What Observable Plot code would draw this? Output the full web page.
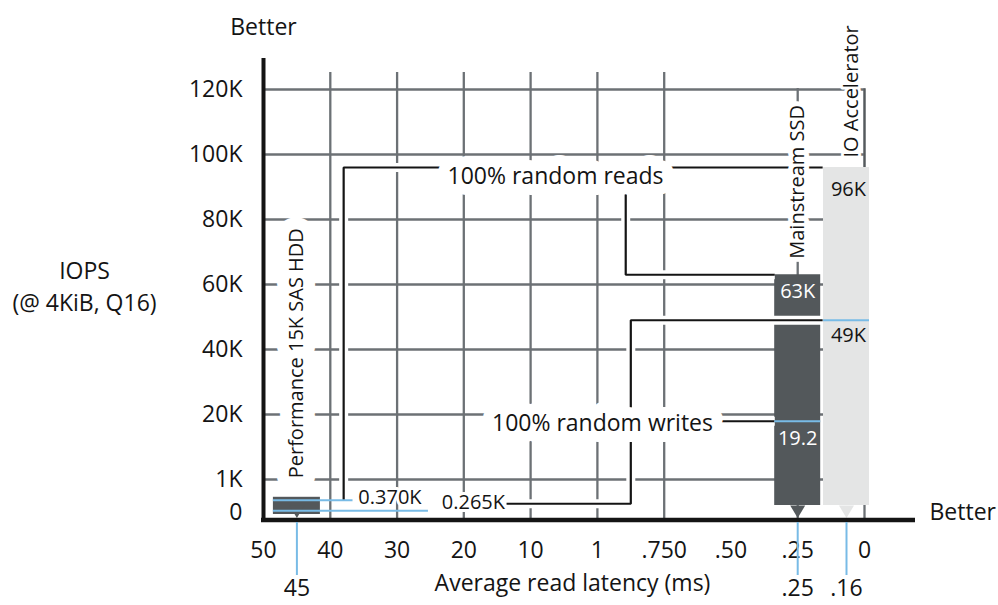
<!DOCTYPE html>
<html>
<head>
<meta charset="utf-8">
<script src="https://cdn.jsdelivr.net/npm/d3@7"></script>
<script src="https://cdn.jsdelivr.net/npm/@observablehq/plot@0.6"></script>
<style>
  html, body { margin: 0; padding: 0; background: #fff; }
  #chart { width: 998px; height: 605px; }
</style>
</head>
<body>
<div id="chart"></div>
<script>
// ---- data ----
const devices = ["Performance 15K SAS HDD", "Mainstream SSD", "IO Accelerator"];
const latencyMs = [45, 0.25, 0.16];
const latencyLabels = ["45", ".25", ".16"];
const readIops = [370, 63000, 96000];
const writeIops = [265, 19200, 49000];
const readLabels = ["0.370K", "63K", "96K"];
const writeLabels = ["0.265K", "19.2", "49K"];
const xTicks = [50, 40, 30, 20, 10, 1, 0.75, 0.5, 0.25, 0];
const xTickLabels = ["50", "40", "30", "20", "10", "1", ".750", ".50", ".25", "0"];
const yTicks = [0, 1000, 20000, 40000, 60000, 80000, 100000, 120000];
const yTickLabels = ["0", "1K", "20K", "40K", "60K", "80K", "100K", "120K"];

const rows = devices.map((name, i) => ({
  name, lat: latencyMs[i], latLabel: latencyLabels[i],
  read: readIops[i], write: writeIops[i],
  readLabel: readLabels[i], writeLabel: writeLabels[i]
}));
const [hdd, ssd, ioa] = rows;

// ---- styles ----
const INK = "#141414", GRID = "#6c7175", DARK = "#53585b", LIGHT = "#e4e5e5", BLUE = "#78bbe6";
const FONT = "'Open Sans', sans-serif";

// piecewise (schematic) scales as in the original graphic
const xDomain = [...xTicks.slice(0, -1), latencyMs[2], xTicks[xTicks.length - 1]];
const xRange = [263, 329.8, 396.6, 463.3, 530.1, 596.9, 663.7, 730.5, 797.2, 846, 864];
const yRange = [512, 479, 414, 349, 284, 219, 154, 89];

const pointer = {
  draw(ctx, size) {
    const r = Math.sqrt(size / Math.PI);
    ctx.moveTo(-r * 1.25, -r);
    ctx.lineTo(r * 1.25, -r);
    ctx.lineTo(0, r * 1.1);
    ctx.closePath();
  }
};

const P = d => d[0], Q = d => d[1];
const halo = (pts, o = {}) => Plot.line(pts, {x: P, y: Q, stroke: "white", strokeWidth: 9, strokeLinecap: "butt", strokeLinejoin: "miter", ...o});
const lead = (pts, o = {}) => Plot.line(pts, {x: P, y: Q, stroke: INK, strokeWidth: 2.2, strokeLinecap: "butt", strokeLinejoin: "miter", ...o});

// annotation leader paths (anchored on the data values)
const readsLeaderA = [[38, hdd.read], [38, ioa.read], [0.204, ioa.read]];
const readsLeaderB = [[0.894, ioa.read], [0.894, ssd.read], [0.336, ssd.read]];
const writesLeaderA = [[0.204, ioa.write], [0.875, ioa.write], [0.875, hdd.write], [13.6, hdd.write]];
const writesLeaderB = [[0.6, ssd.write], [0.336, ssd.write]];

const textHalo = w => ({stroke: "white", strokeWidth: w, strokeLinejoin: "round", paintOrder: "stroke"});

const chart = Plot.plot({
  width: 998,
  height: 605,
  marginTop: 58,
  marginBottom: 86,
  marginLeft: 263,
  marginRight: 83,
  style: {fontFamily: FONT, fontSize: "20px", color: INK, background: "white"},
  x: {type: "linear", domain: xDomain, range: xRange, label: null},
  y: {type: "linear", domain: yTicks, range: yRange, label: null},
  marks: [
    // grid
    Plot.ruleX(xTicks.slice(1, 7), {stroke: GRID, strokeWidth: 2.3, insetTop: 14}),
    Plot.ruleX(xTicks.slice(8), {stroke: GRID, strokeWidth: 2.3, insetTop: 30}),
    Plot.ruleY(yTicks.slice(1), {x1: xTicks[0], x2: xTicks[xTicks.length - 1], stroke: GRID, strokeWidth: 2.3}),

    // bars
    Plot.rect([hdd], {x1: "lat", x2: "lat", y1: 0, y2: "read", insetLeft: -23.5, insetRight: -23.5, insetTop: -3, insetBottom: -2, fill: DARK}),
    Plot.rect([ssd], {x1: "lat", x2: "lat", y1: 0, y2: "read", insetLeft: -23, insetRight: -23, insetBottom: 7, fill: DARK}),
    Plot.rect([ioa], {x1: "lat", x2: "lat", y1: 0, y2: "read", insetLeft: -23, insetRight: -23, insetBottom: 7, fill: LIGHT}),
    Plot.dot([hdd, ssd], {x: "lat", y: 0, r: 6, symbol: pointer, fill: DARK, dy: -1}),
    Plot.dot([ioa], {x: "lat", y: 0, r: 6, symbol: pointer, fill: LIGHT, dy: -1}),

    // leaders
    halo(readsLeaderA), halo(readsLeaderB), halo(writesLeaderA), halo(writesLeaderB, {dy: 4}),
    lead(readsLeaderA), lead(readsLeaderB), lead(writesLeaderA), lead(writesLeaderB, {dy: 4}),

    // blue value lines
    Plot.ruleY([hdd], {y: "read", x1: "lat", x2: 36.6, insetLeft: -23.5, stroke: BLUE, strokeWidth: 2}),
    Plot.ruleY([hdd], {y: "write", x1: "lat", x2: 25.3, insetLeft: -23.5, dy: 7, stroke: BLUE, strokeWidth: 2}),
    Plot.ruleY([ssd], {y: "write", x1: "lat", x2: "lat", insetLeft: -23, insetRight: -23, dy: 4, stroke: BLUE, strokeWidth: 2}),
    Plot.ruleY([ioa], {y: "write", x1: "lat", x2: "lat", insetLeft: -23, insetRight: -23, stroke: BLUE, strokeWidth: 2}),

    // annotation texts
    Plot.text(["100% random reads"], {x: 6.64, y: ioa.read, dy: 9, text: d => d, fontSize: 23, fill: INK, ...textHalo(22)}),
    Plot.text(["100% random writes"], {x: 0.981, y: ssd.write, dy: 6, text: d => d, fontSize: 23, fill: INK, ...textHalo(22)}),
    Plot.text([hdd], {x: "lat", y: "read", dy: -22, text: "name", rotate: -90, textAnchor: "start", fontSize: 20, fill: INK, ...textHalo(24)}),
    Plot.text([ssd], {x: "lat", y: "read", dy: -16, text: "name", rotate: -90, textAnchor: "start", fontSize: 20, fill: INK, ...textHalo(10)}),
    Plot.text([ioa], {x: "lat", y: "read", dy: -10, dx: 5, text: "name", rotate: -90, textAnchor: "start", fontSize: 20, fill: INK, ...textHalo(6)}),
    Plot.ruleX([xTicks[xTicks.length - 1]], {y1: ioa.read, y2: yTicks[yTicks.length - 1], stroke: "#555a5d", strokeWidth: 1.8}),

    // value labels
    Plot.text([hdd], {x: 35.8, y: "read", dy: -3, text: "readLabel", textAnchor: "start", fontSize: 20, fill: INK, ...textHalo(6)}),
    Plot.text([hdd], {x: 23.3, y: "write", dy: -1, text: "writeLabel", textAnchor: "start", fontSize: 20, fill: INK, ...textHalo(6)}),
    Plot.text([ssd], {x: "lat", y: "read", dy: 17, text: "readLabel", fontSize: 20, fill: "white"}),
    Plot.text([ssd], {x: "lat", y: "write", dy: 21, text: "writeLabel", fontSize: 20, fill: "white"}),
    Plot.text([ioa], {x: "lat", y: "read", dy: 22, dx: 2, text: "readLabel", fontSize: 20, fill: INK}),
    Plot.text([ioa], {x: "lat", y: "write", dy: 15, dx: 2, text: "writeLabel", fontSize: 20, fill: INK}),

    // axes
    Plot.ruleX([xTicks[0]], {stroke: INK, strokeWidth: 4, insetBottom: -2.5}),
    Plot.ruleY([0], {stroke: INK, strokeWidth: 4.5, dy: 7.5, insetLeft: -2}),
    Plot.axisY({ticks: yTicks, tickFormat: d => yTickLabels[yTicks.indexOf(d)], tickSize: 0, tickPadding: 21, fontSize: 23, label: null}),
    Plot.axisX({ticks: xTicks, tickFormat: d => xTickLabels[xTicks.indexOf(d)], tickSize: 0, tickPadding: 22, fontSize: 23, label: null}),

    // latency pointers below the axis
    Plot.ruleX(rows, {x: "lat", y1: 0, y2: 0, insetTop: 10, insetBottom: -63, stroke: BLUE, strokeWidth: 2}),
    Plot.text(rows, {x: "lat", y: 0, dy: 76, text: "latLabel", fontSize: 23, fill: INK}),

    // axis titles
    Plot.text(["Better"], {x: xTicks[0], frameAnchor: "top", dy: -40, text: d => d, fontSize: 23, fill: INK}),
    Plot.text(["Better"], {frameAnchor: "bottom-right", dx: 14, textAnchor: "start", text: d => d, fontSize: 23, fill: INK}),
    Plot.text(["IOPS\n(@ 4KiB, Q16)"], {y: 60000, frameAnchor: "left", dx: -179, textAnchor: "middle", lineHeight: 1.4, text: d => d, fontSize: 23, fill: INK}),
    Plot.text(["Average read latency (ms)"], {frameAnchor: "bottom", dx: -17, dy: 71, text: d => d, fontSize: 23, fill: INK})
  ]
});
document.getElementById("chart").appendChild(chart);
</script>
</body>
</html>
